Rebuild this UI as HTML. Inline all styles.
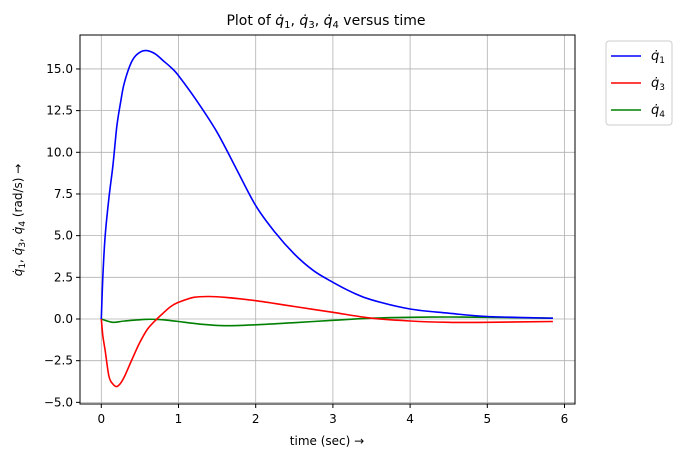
<!DOCTYPE html>
<html><head><meta charset="utf-8">
<style>
body{margin:0;background:#fff;font-family:"Liberation Sans","DejaVu Sans",sans-serif;}
svg text{font-family:"DejaVu Sans","Liberation Sans",sans-serif;}
</style></head>
<body>
<svg id="chart" width="682" height="459" viewBox="0 0 682 459" xmlns="http://www.w3.org/2000/svg">
<g id="grid"></g>
<g id="series"></g>
<rect x="80" y="35" width="495" height="369" fill="none" stroke="#000" stroke-width="1"/>
<g id="axes"></g>
<text x="326" y="25" text-anchor="middle" font-size="14">Plot of <tspan font-style="italic">q̇</tspan><tspan font-size="10" dy="3">1</tspan><tspan dy="-3">, </tspan><tspan font-style="italic">q̇</tspan><tspan font-size="10" dy="3">3</tspan><tspan dy="-3">, </tspan><tspan font-style="italic">q̇</tspan><tspan font-size="10" dy="3">4</tspan><tspan dy="-3"> versus time</tspan></text>
<text x="327" y="445" text-anchor="middle" font-size="12">time (sec)  →</text>
<text transform="translate(22,220) rotate(-90)" text-anchor="middle" font-size="12"><tspan font-style="italic">q̇</tspan><tspan font-size="9" dy="3">1</tspan><tspan dy="-3">, </tspan><tspan font-style="italic">q̇</tspan><tspan font-size="9" dy="3">3</tspan><tspan dy="-3">, </tspan><tspan font-style="italic">q̇</tspan><tspan font-size="9" dy="3">4</tspan><tspan dy="-3"> (rad/s)  →</tspan></text>
<g>
<rect x="606" y="41" width="66" height="84" rx="3" fill="#fff" stroke="#ccc"/>
<g><line x1="611" y1="56" x2="641" y2="56" stroke="#0000ff" stroke-width="1.5"/><text x="651" y="60" font-size="13" font-style="italic">q̇<tspan font-size="9" font-style="normal" dy="3">1</tspan></text></g>
<g><line x1="611" y1="83" x2="641" y2="83" stroke="#ff0000" stroke-width="1.5"/><text x="651" y="87" font-size="13" font-style="italic">q̇<tspan font-size="9" font-style="normal" dy="3">3</tspan></text></g>
<g><line x1="611" y1="110" x2="641" y2="110" stroke="#008000" stroke-width="1.5"/><text x="651" y="114" font-size="13" font-style="italic">q̇<tspan font-size="9" font-style="normal" dy="3">4</tspan></text></g>
</g>
</svg>
<script>
const xTicks=[0,1,2,3,4,5,6];
const yTicks=[-5,-2.5,0,2.5,5,7.5,10,12.5,15];
const yTickLabels=["−5.0","−2.5","0.0","2.5","5.0","7.5","10.0","12.5","15.0"];
const t1=[0,0.02,0.05,0.1,0.15,0.2,0.25,0.3,0.4,0.5,0.59,0.7,0.8,0.9,1.0,1.25,1.5,1.75,2.0,2.25,2.5,2.75,3.0,3.25,3.5,4.0,4.5,5.0,5.85];
const q1=[0,2.5,5.0,7.3,9.2,11.5,13.0,14.2,15.5,16.0,16.1,15.9,15.5,15.1,14.6,13.0,11.2,9.0,6.8,5.2,3.9,2.9,2.2,1.6,1.15,0.6,0.35,0.15,0.05];
const t3=[0,0.02,0.05,0.1,0.15,0.2,0.25,0.3,0.4,0.5,0.6,0.72,0.8,0.9,1.0,1.2,1.4,1.6,2.0,2.5,3.0,3.5,4.0,4.5,5.0,5.85];
const q3=[0,-1.0,-1.9,-3.45,-3.9,-4.05,-3.85,-3.45,-2.4,-1.4,-0.6,0,0.35,0.75,1.0,1.3,1.35,1.3,1.1,0.75,0.4,0.05,-0.12,-0.2,-0.2,-0.15];
const t4=[0,0.15,0.3,0.6,0.8,1.0,1.3,1.6,2.0,2.5,3.0,3.5,4.0,4.5,5.0,5.85];
const q4=[0,-0.2,-0.12,-0.02,-0.05,-0.15,-0.32,-0.4,-0.35,-0.22,-0.08,0.05,0.1,0.12,0.1,0.05];
const NS="http://www.w3.org/2000/svg";
const X=v=>101.3+v*77.2;
const Y=v=>319-v*16.67;
const grid=document.getElementById('grid'),axes=document.getElementById('axes'),ser=document.getElementById('series');
function mk(tag,attrs,parent){const e=document.createElementNS(NS,tag);for(const k in attrs)e.setAttribute(k,attrs[k]);parent.appendChild(e);return e;}
xTicks.forEach(v=>{
 const g=mk('line',{x1:X(v),x2:X(v),y1:35,y2:404,stroke:'#b0b0b0','stroke-width':0.8},grid);
 
 
 const tk=mk('line',{x1:X(v),x2:X(v),y1:404,y2:408,stroke:'#000'},axes);
 
 
 const tx=mk('text',{x:X(v),y:423,'text-anchor':'middle','font-size':12},axes);
 tx.textContent=v;
 
 
});
yTicks.forEach((v,i)=>{
 const g=mk('line',{x1:80,x2:575,y1:Y(v),y2:Y(v),stroke:'#b0b0b0','stroke-width':0.8},grid);
 
 
 const tk=mk('line',{x1:76,x2:80,y1:Y(v),y2:Y(v),stroke:'#000'},axes);
 
 
 const tx=mk('text',{x:73,y:Y(v)+4,'text-anchor':'end','font-size':12},axes);
 tx.textContent=yTickLabels[i];
 
 
});
function line(ts,vs,color,name){
 const P=ts.map((t,i)=>[X(t),Y(vs[i])]);
 let d='M'+P[0][0].toFixed(1)+','+P[0][1].toFixed(1);
 for(let i=0;i<P.length-1;i++){
  const p0=P[Math.max(0,i-1)],p1=P[i],p2=P[i+1],p3=P[Math.min(P.length-1,i+2)];
  const c1=[p1[0]+(p2[0]-p0[0])/6,p1[1]+(p2[1]-p0[1])/6];
  const c2=[p2[0]-(p3[0]-p1[0])/6,p2[1]-(p3[1]-p1[1])/6];
  d+='C'+c1.map(n=>n.toFixed(1)).join(',')+' '+c2.map(n=>n.toFixed(1)).join(',')+' '+p2[0].toFixed(1)+','+p2[1].toFixed(1);
 }
 const p=mk('path',{d:d,fill:'none',stroke:color,'stroke-width':1.6,'stroke-linejoin':'round'},ser);
 
 
}
line(t4,q4,'#008000','line-q4');
line(t3,q3,'#ff0000','line-q3');
line(t1,q1,'#0000ff','line-q1');
</script>
</body></html>
